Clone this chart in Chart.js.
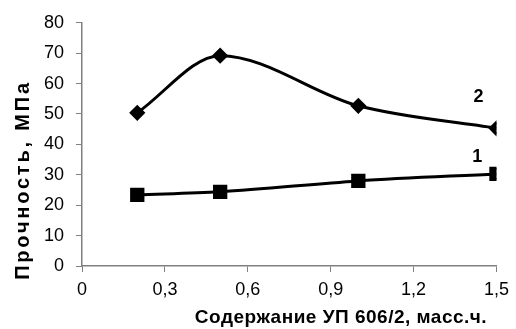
<!DOCTYPE html>
<html>
<head>
<meta charset="utf-8">
<script src="https://cdn.jsdelivr.net/npm/chart.js@4"></script>
<style>
  html, body { margin: 0; padding: 0; background: #fff; }
  #wrap { width: 516px; height: 329px; }
</style>
</head>
<body>
<div id="wrap"><canvas id="strengthChart" width="516" height="329"></canvas></div>
<script>
// Data
const contentX = [0.2, 0.5, 1.0, 1.5];
const series1 = [23.4, 24.4, 28.0, 30.3];
const series2 = [50.4, 69.2, 52.7, 45.3];
const xTicks = [0, 0.3, 0.6, 0.9, 1.2, 1.5];
const yTicks = [0, 10, 20, 30, 40, 50, 60, 70, 80];
const curveLabels = [
  { text: "2", x: 1.435, y: 55.5 },
  { text: "1", x: 1.43, y: 36 },
];
const xTitle = "Содержание УП 606/2, масс.ч.";
const yTitle = "Прочность, МПа";

const fontFamily = "Arial, 'Liberation Sans', sans-serif";
const axisGray = "#808080";

// curve numbers and axis titles (the reference text is a bit stretched, so letterSpacing)
const textPlugin = {
  id: "extraText",
  afterDraw(chart) {
    const { ctx, scales } = chart;
    ctx.save();
    ctx.fillStyle = "#000";
    ctx.textAlign = "center";
    ctx.textBaseline = "middle";
    ctx.font = "bold 18px " + fontFamily;
    curveLabels.forEach((l) => {
      ctx.fillText(l.text, scales.x.getPixelForValue(l.x), scales.y.getPixelForValue(l.y));
    });

    ctx.font = "bold 19px " + fontFamily;
    ctx.letterSpacing = "0.5px";
    ctx.fillText(xTitle, 341, 318);

    ctx.translate(23, 180);
    ctx.rotate(-Math.PI / 2);
    ctx.font = "bold 20px " + fontFamily;
    ctx.letterSpacing = "2.8px";
    ctx.fillText(yTitle, 0, 0);
    ctx.restore();
  },
};

const ctx = document.getElementById("strengthChart").getContext("2d");
new Chart(ctx, {
  type: "line",
  data: {
    datasets: [
      {
        label: "1",
        data: contentX.map((x, i) => ({ x, y: series1[i] })),
        borderColor: "#000",
        backgroundColor: "#000",
        borderWidth: 3,
        pointStyle: "rect",
        pointRadius: 8,
        cubicInterpolationMode: "monotone",
      },
      {
        label: "2",
        data: contentX.map((x, i) => ({ x, y: series2[i] })),
        borderColor: "#000",
        backgroundColor: "#000",
        borderWidth: 3,
        pointStyle: "rectRot",
        pointRadius: 6,
        cubicInterpolationMode: "monotone",
      },
    ],
  },
  options: {
    responsive: false,
    animation: false,
    layout: { padding: { top: 20, right: 19, left: 0, bottom: 0 } },
    plugins: {
      legend: { display: false },
      tooltip: { enabled: false },
    },
    scales: {
      x: {
        type: "linear",
        min: 0,
        max: 1.5,
        afterBuildTicks: (s) => { s.ticks = xTicks.map((v) => ({ value: v })); },
        afterFit: (s) => { s.height = 63; },
        grid: { drawOnChartArea: false, color: axisGray, tickLength: 6 },
        border: { color: axisGray, width: 1.5 },
        ticks: {
          color: "#000",
          font: { family: fontFamily, size: 18 },
          padding: 7,
          maxRotation: 0,
          callback: (v) => (v === 0 ? "0" : v.toFixed(1).replace(".", ",")),
        },
      },
      y: {
        min: 0,
        max: 80,
        afterBuildTicks: (s) => { s.ticks = yTicks.map((v) => ({ value: v })); },
        afterFit: (s) => { s.width = 82; },
        grid: { drawOnChartArea: false, color: axisGray, tickLength: 6 },
        border: { color: axisGray, width: 1.5 },
        ticks: {
          color: "#000",
          font: { family: fontFamily, size: 18 },
          padding: 12,
        },
      },
    },
  },
  plugins: [textPlugin],
});
</script>
</body>
</html>
